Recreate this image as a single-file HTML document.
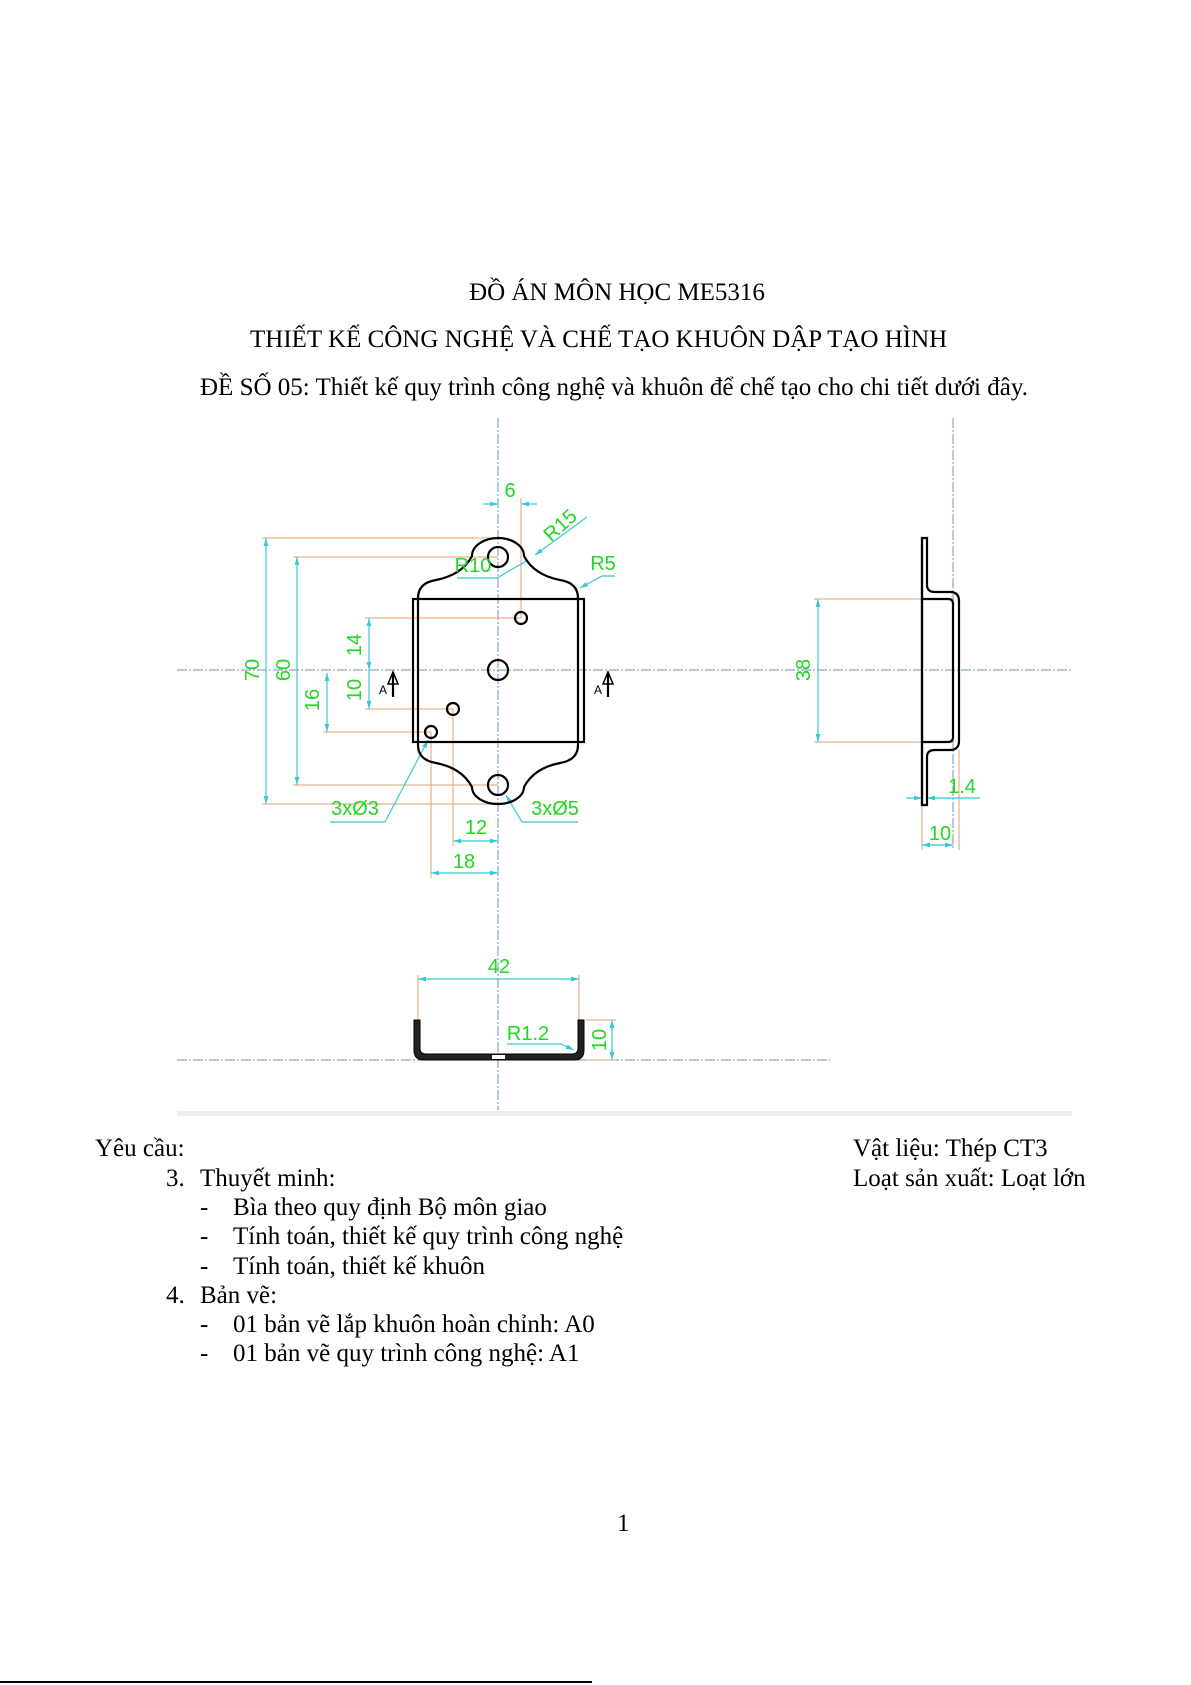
<!DOCTYPE html>
<html><head><meta charset="utf-8">
<style>
html,body{margin:0;padding:0;background:#fff;}
body{width:1191px;height:1685px;position:relative;overflow:hidden;}
.t{position:absolute;font-family:"Liberation Serif","Noto Serif CJK SC",serif;font-size:25px;color:#000;white-space:nowrap;line-height:1;}
svg{position:absolute;left:0;top:0;}
</style></head><body>
<svg width="1191" height="1685" viewBox="0 0 1191 1685" xmlns="http://www.w3.org/2000/svg">
<defs>
<marker id="ar" viewBox="0 0 10 10" refX="10" refY="5" markerWidth="8" markerHeight="8" orient="auto-start-reverse" markerUnits="userSpaceOnUse"><path d="M0,2 L10,5 L0,8 Z" fill="#37c8d8"/></marker>
</defs>
<g stroke="#6f93b7" stroke-width="1" stroke-dasharray="10,2,2,2" fill="none">
<line x1="498" y1="418" x2="498" y2="1110"/>
<line x1="177" y1="670" x2="1072" y2="670"/>
<line x1="953" y1="418" x2="953" y2="850"/>
<line x1="177" y1="1060" x2="830" y2="1060"/>
</g>
<rect x="177" y="1111" width="895" height="5" fill="#eeeeee"/>
<g stroke="#e0a070" stroke-width="1" fill="none">
<line x1="262" y1="538" x2="498" y2="538"/><line x1="262" y1="804" x2="498" y2="804"/>
<line x1="293" y1="557" x2="498" y2="557"/><line x1="293" y1="785" x2="498" y2="785"/>
<line x1="365" y1="618" x2="521" y2="618"/><line x1="365" y1="709" x2="453" y2="709"/>
<line x1="323" y1="732" x2="431" y2="732"/>
<line x1="521" y1="498" x2="521" y2="618"/>
<line x1="431" y1="732" x2="431" y2="878"/><line x1="453" y1="709" x2="453" y2="846"/>
<line x1="814" y1="599" x2="922" y2="599"/><line x1="814" y1="742" x2="922" y2="742"/>
<line x1="922" y1="805" x2="922" y2="850"/><line x1="959" y1="750" x2="959" y2="850"/>
<line x1="418" y1="975" x2="418" y2="1020"/><line x1="579" y1="975" x2="579" y2="1020"/>
<line x1="586" y1="1020" x2="616" y2="1020"/><line x1="586" y1="1060" x2="616" y2="1060"/>
</g>
<g stroke="#37c8d8" stroke-width="1.2" fill="none">
<line x1="266" y1="538" x2="266" y2="804" marker-start="url(#ar)" marker-end="url(#ar)"/>
<line x1="297" y1="557" x2="297" y2="785" marker-start="url(#ar)" marker-end="url(#ar)"/>
<line x1="369" y1="618" x2="369" y2="670" marker-start="url(#ar)" marker-end="url(#ar)"/>
<line x1="369" y1="670" x2="369" y2="709" marker-end="url(#ar)"/>
<line x1="327" y1="673" x2="327" y2="732" marker-start="url(#ar)" marker-end="url(#ar)"/>
<line x1="483" y1="504" x2="498" y2="504" marker-end="url(#ar)"/>
<line x1="537" y1="504" x2="521" y2="504" marker-end="url(#ar)"/>
<line x1="453" y1="841" x2="498" y2="841" marker-start="url(#ar)" marker-end="url(#ar)"/>
<line x1="431" y1="873" x2="498" y2="873" marker-start="url(#ar)" marker-end="url(#ar)"/>
<line x1="818" y1="599" x2="818" y2="742" marker-start="url(#ar)" marker-end="url(#ar)"/>
<line x1="906" y1="798" x2="922" y2="798" marker-end="url(#ar)"/>
<line x1="980" y1="798" x2="927" y2="798" marker-end="url(#ar)"/>
<line x1="922" y1="845" x2="953" y2="845" marker-start="url(#ar)" marker-end="url(#ar)"/>
<line x1="418" y1="979" x2="579" y2="979" marker-start="url(#ar)" marker-end="url(#ar)"/>
<line x1="612" y1="1020" x2="612" y2="1060" marker-start="url(#ar)" marker-end="url(#ar)"/>
<polyline points="587,517 535,555" marker-end="url(#ar)"/>
<polyline points="457,578 497,578 528,560"/>
<polyline points="615,576 602,576 580,588" marker-end="url(#ar)"/>
<polyline points="330,822 385,822 428,740" marker-end="url(#ar)"/>
<polyline points="578,822 522,822 506,795" marker-end="url(#ar)"/>
<polyline points="507,1044 561,1044 574,1050" marker-end="url(#ar)"/>
</g>
<g stroke="#000" stroke-width="2.2" fill="none">
<path d="M418,745 L418,598 Q418,583 436,580 Q462,575 472,556 A26 18 0 0 1 524,556 Q534,575 560,580 Q578,583 578,598 L578,745 Q578,760 560,763 Q534,768 524,787 A26 17 0 0 1 472,787 Q462,768 436,763 Q418,760 418,745 Z"/>
<rect x="413" y="599" width="171" height="143"/>
<circle cx="498" cy="557" r="10"/><circle cx="498" cy="670" r="10"/><circle cx="498" cy="785" r="10"/>
<circle cx="521" cy="618" r="6"/><circle cx="453" cy="709" r="6"/><circle cx="431" cy="732" r="6"/>
<line x1="393" y1="697" x2="393" y2="673"/><path d="M388,684 L393,672 L398,684 Z" stroke-width="1.5"/>
<line x1="608" y1="697" x2="608" y2="673"/><path d="M603,684 L608,672 L613,684 Z" stroke-width="1.5"/>
</g>
<g font-family="Liberation Sans, sans-serif" font-size="12" fill="#000">
<text x="379" y="694">A</text><text x="594" y="694">A</text>
</g>
<g stroke="#000" stroke-width="2.2" fill="none">
<path d="M922,538 L927,538 L927,585 Q927,592 935,592 L950,592 Q959,592 959,601 L959,741 Q959,750 950,750 L935,750 Q927,750 927,757 L927,805 L922,805 Z"/>
<line x1="922" y1="538" x2="922" y2="805"/>
<path d="M922,599 L948,599 Q953,599 953,604 L953,737 Q953,742 948,742 L922,742"/>
</g>
<path d="M414,1020 L420,1020 L420,1048 Q420,1054 426,1054 L572,1054 Q578,1054 578,1048 L578,1020 L584,1020 L584,1050 Q584,1060 574,1060 L424,1060 Q414,1060 414,1050 Z" fill="#222" stroke="#000" stroke-width="1"/>
<rect x="492" y="1055" width="13" height="4" fill="#fff"/>
<g font-family="Liberation Sans, sans-serif" font-size="20" fill="#22d622" text-anchor="middle">
<text x="510" y="497">6</text>
<text x="560" y="532" transform="rotate(-42 560 525)">R15</text>
<text x="473" y="572">R10</text>
<text x="603" y="570">R5</text>
<text x="252" y="677" transform="rotate(-90 252 670)">70</text>
<text x="283" y="677" transform="rotate(-90 283 670)">60</text>
<text x="354" y="652" transform="rotate(-90 354 645)">14</text>
<text x="354" y="697" transform="rotate(-90 354 690)">10</text>
<text x="312" y="707" transform="rotate(-90 312 700)">16</text>
<text x="355" y="815">3xØ3</text>
<text x="555" y="815">3xØ5</text>
<text x="476" y="834">12</text>
<text x="464" y="868">18</text>
<text x="803" y="677" transform="rotate(-90 803 670)">38</text>
<text x="962" y="793">1.4</text>
<text x="940" y="840">10</text>
<text x="499" y="973">42</text>
<text x="528" y="1040">R1.2</text>
<text x="599" y="1047" transform="rotate(-90 599 1040)">10</text>
</g>
<rect x="0" y="1681" width="592" height="2" fill="#000"/>
</svg>
<div class="t" style="left:0;width:1234px;text-align:center;top:280px;">ĐỒ ÁN MÔN HỌC ME5316</div>
<div class="t" style="left:250px;top:327px;">THIẾT KẾ CÔNG NGHỆ VÀ CHẾ TẠO KHUÔN DẬP TẠO HÌNH</div>
<div class="t" style="left:200px;top:375px;">ĐỀ SỐ 05: Thiết kế quy trình công nghệ và khuôn để chế tạo cho chi tiết dưới đây.</div>
<div class="t" style="left:95px;top:1136px;">Yêu cầu:</div>
<div class="t" style="left:166px;top:1166px;">3.</div><div class="t" style="left:200px;top:1166px;">Thuyết minh:</div>
<div class="t" style="left:200px;top:1195px;">-</div><div class="t" style="left:233px;top:1195px;">Bìa theo quy định Bộ môn giao</div>
<div class="t" style="left:200px;top:1224px;">-</div><div class="t" style="left:233px;top:1224px;">Tính toán, thiết kế quy trình công nghệ</div>
<div class="t" style="left:200px;top:1254px;">-</div><div class="t" style="left:233px;top:1254px;">Tính toán, thiết kế khuôn</div>
<div class="t" style="left:166px;top:1283px;">4.</div><div class="t" style="left:200px;top:1283px;">Bản vẽ:</div>
<div class="t" style="left:200px;top:1312px;">-</div><div class="t" style="left:233px;top:1312px;">01 bản vẽ lắp khuôn hoàn chỉnh: A0</div>
<div class="t" style="left:200px;top:1341px;">-</div><div class="t" style="left:233px;top:1341px;">01 bản vẽ quy trình công nghệ: A1</div>
<div class="t" style="left:853px;top:1136px;">Vật liệu: Thép CT3</div>
<div class="t" style="left:853px;top:1166px;">Loạt sản xuất: Loạt lớn</div>
<div class="t" style="left:617px;top:1511px;">1</div>
</body></html>
